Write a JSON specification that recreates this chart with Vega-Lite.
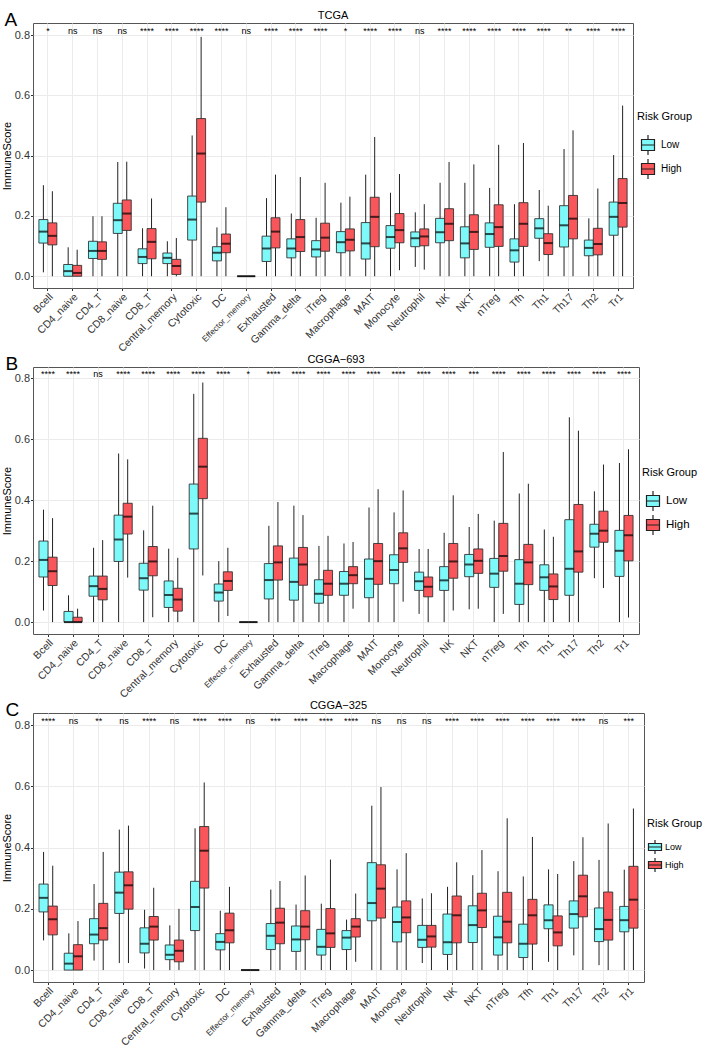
{
  "$schema": "https://vega.github.io/schema/vega-lite/v6.json",
  "padding": {"left": 0, "top": 9, "right": 0, "bottom": 0},
  "config": {
    "font": "Liberation Sans",
    "view": {"stroke": "#555555", "strokeWidth": 1},
    "axis": {"gridColor": "#EBEBEB", "domain": false, "tickColor": "#333333", "tickSize": 2.5, "labelColor": "#333333", "labelFontSize": 11, "titleFontWeight": "normal", "titleFontSize": 11, "titleColor": "#000000"},
    "title": {"fontWeight": "normal", "fontSize": 11, "color": "#000000"},
    "legend": {"titleFontWeight": "normal", "titleFontSize": 11, "titleColor": "#000000", "labelColor": "#000000"}
  },
  "datasets": {
    "box": [
      {"p":"TCGA","c":"Bcell","g":"Low","lo":0.013,"q1":0.11,"md":0.148,"q3":0.188,"hi":0.302},
      {"p":"TCGA","c":"Bcell","g":"High","lo":0,"q1":0.104,"md":0.134,"q3":0.177,"hi":0.282},
      {"p":"TCGA","c":"CD4_naive","g":"Low","lo":0,"q1":0,"md":0.017,"q3":0.039,"hi":0.096},
      {"p":"TCGA","c":"CD4_naive","g":"High","lo":0,"q1":0,"md":0.011,"q3":0.036,"hi":0.088},
      {"p":"TCGA","c":"CD4_T","g":"Low","lo":0,"q1":0.059,"md":0.084,"q3":0.116,"hi":0.199},
      {"p":"TCGA","c":"CD4_T","g":"High","lo":0,"q1":0.056,"md":0.084,"q3":0.114,"hi":0.199},
      {"p":"TCGA","c":"CD8_naive","g":"Low","lo":0,"q1":0.142,"md":0.186,"q3":0.242,"hi":0.379},
      {"p":"TCGA","c":"CD8_naive","g":"High","lo":0,"q1":0.152,"md":0.208,"q3":0.253,"hi":0.38},
      {"p":"TCGA","c":"CD8_T","g":"Low","lo":0,"q1":0.042,"md":0.064,"q3":0.091,"hi":0.159},
      {"p":"TCGA","c":"CD8_T","g":"High","lo":0,"q1":0.058,"md":0.114,"q3":0.158,"hi":0.258},
      {"p":"TCGA","c":"Central_memory","g":"Low","lo":0,"q1":0.042,"md":0.061,"q3":0.077,"hi":0.116},
      {"p":"TCGA","c":"Central_memory","g":"High","lo":0,"q1":0.006,"md":0.034,"q3":0.056,"hi":0.127},
      {"p":"TCGA","c":"Cytotoxic","g":"Low","lo":0,"q1":0.12,"md":0.188,"q3":0.266,"hi":0.467},
      {"p":"TCGA","c":"Cytotoxic","g":"High","lo":0,"q1":0.246,"md":0.407,"q3":0.523,"hi":0.794},
      {"p":"TCGA","c":"DC","g":"Low","lo":0,"q1":0.051,"md":0.078,"q3":0.098,"hi":0.162},
      {"p":"TCGA","c":"DC","g":"High","lo":0,"q1":0.078,"md":0.108,"q3":0.14,"hi":0.229},
      {"p":"TCGA","c":"Effector_memory","g":"Low","lo":0,"q1":0,"md":0,"q3":0,"hi":0},
      {"p":"TCGA","c":"Effector_memory","g":"High","lo":0,"q1":0,"md":0,"q3":0,"hi":0},
      {"p":"TCGA","c":"Exhausted","g":"Low","lo":0,"q1":0.049,"md":0.092,"q3":0.133,"hi":0.259},
      {"p":"TCGA","c":"Exhausted","g":"High","lo":0,"q1":0.094,"md":0.148,"q3":0.194,"hi":0.337},
      {"p":"TCGA","c":"Gamma_delta","g":"Low","lo":0,"q1":0.061,"md":0.092,"q3":0.124,"hi":0.208},
      {"p":"TCGA","c":"Gamma_delta","g":"High","lo":0,"q1":0.082,"md":0.13,"q3":0.188,"hi":0.329},
      {"p":"TCGA","c":"iTreg","g":"Low","lo":0,"q1":0.064,"md":0.089,"q3":0.118,"hi":0.194},
      {"p":"TCGA","c":"iTreg","g":"High","lo":0,"q1":0.083,"md":0.128,"q3":0.176,"hi":0.31},
      {"p":"TCGA","c":"Macrophage","g":"Low","lo":0,"q1":0.078,"md":0.113,"q3":0.148,"hi":0.244},
      {"p":"TCGA","c":"Macrophage","g":"High","lo":0,"q1":0.084,"md":0.121,"q3":0.157,"hi":0.264},
      {"p":"TCGA","c":"MAIT","g":"Low","lo":0,"q1":0.057,"md":0.109,"q3":0.178,"hi":0.337},
      {"p":"TCGA","c":"MAIT","g":"High","lo":0,"q1":0.098,"md":0.197,"q3":0.262,"hi":0.462},
      {"p":"TCGA","c":"Monocyte","g":"Low","lo":0,"q1":0.093,"md":0.13,"q3":0.168,"hi":0.277},
      {"p":"TCGA","c":"Monocyte","g":"High","lo":0.02,"q1":0.111,"md":0.153,"q3":0.208,"hi":0.339},
      {"p":"TCGA","c":"Neutrophil","g":"Low","lo":0.031,"q1":0.098,"md":0.126,"q3":0.147,"hi":0.212},
      {"p":"TCGA","c":"Neutrophil","g":"High","lo":0.022,"q1":0.101,"md":0.132,"q3":0.157,"hi":0.239},
      {"p":"TCGA","c":"NK","g":"Low","lo":0,"q1":0.111,"md":0.146,"q3":0.192,"hi":0.31},
      {"p":"TCGA","c":"NK","g":"High","lo":0,"q1":0.118,"md":0.174,"q3":0.224,"hi":0.379},
      {"p":"TCGA","c":"NKT","g":"Low","lo":0,"q1":0.061,"md":0.109,"q3":0.164,"hi":0.31},
      {"p":"TCGA","c":"NKT","g":"High","lo":0,"q1":0.089,"md":0.147,"q3":0.204,"hi":0.371},
      {"p":"TCGA","c":"nTreg","g":"Low","lo":0,"q1":0.096,"md":0.14,"q3":0.177,"hi":0.293},
      {"p":"TCGA","c":"nTreg","g":"High","lo":0,"q1":0.099,"md":0.163,"q3":0.237,"hi":0.436},
      {"p":"TCGA","c":"Tfh","g":"Low","lo":0,"q1":0.047,"md":0.086,"q3":0.124,"hi":0.239},
      {"p":"TCGA","c":"Tfh","g":"High","lo":0,"q1":0.099,"md":0.174,"q3":0.244,"hi":0.442},
      {"p":"TCGA","c":"Th1","g":"Low","lo":0.05,"q1":0.126,"md":0.159,"q3":0.191,"hi":0.286},
      {"p":"TCGA","c":"Th1","g":"High","lo":0,"q1":0.072,"md":0.11,"q3":0.141,"hi":0.234},
      {"p":"TCGA","c":"Th17","g":"Low","lo":0,"q1":0.097,"md":0.169,"q3":0.234,"hi":0.422},
      {"p":"TCGA","c":"Th17","g":"High","lo":0,"q1":0.124,"md":0.191,"q3":0.268,"hi":0.484},
      {"p":"TCGA","c":"Th2","g":"Low","lo":0,"q1":0.068,"md":0.094,"q3":0.12,"hi":0.192},
      {"p":"TCGA","c":"Th2","g":"High","lo":0,"q1":0.071,"md":0.107,"q3":0.159,"hi":0.291},
      {"p":"TCGA","c":"Tr1","g":"Low","lo":0,"q1":0.136,"md":0.197,"q3":0.246,"hi":0.402},
      {"p":"TCGA","c":"Tr1","g":"High","lo":0,"q1":0.163,"md":0.243,"q3":0.324,"hi":0.566},

      {"p":"CGGA-693","c":"Bcell","g":"Low","lo":0.038,"q1":0.148,"md":0.204,"q3":0.266,"hi":0.369},
      {"p":"CGGA-693","c":"Bcell","g":"High","lo":0,"q1":0.12,"md":0.167,"q3":0.213,"hi":0.341},
      {"p":"CGGA-693","c":"CD4_naive","g":"Low","lo":0,"q1":0,"md":0,"q3":0.035,"hi":0.088},
      {"p":"CGGA-693","c":"CD4_naive","g":"High","lo":0,"q1":0,"md":0,"q3":0.016,"hi":0.044},
      {"p":"CGGA-693","c":"CD4_T","g":"Low","lo":0,"q1":0.085,"md":0.118,"q3":0.151,"hi":0.244},
      {"p":"CGGA-693","c":"CD4_T","g":"High","lo":0,"q1":0.073,"md":0.109,"q3":0.151,"hi":0.269},
      {"p":"CGGA-693","c":"CD8_naive","g":"Low","lo":0,"q1":0.199,"md":0.271,"q3":0.351,"hi":0.553},
      {"p":"CGGA-693","c":"CD8_naive","g":"High","lo":0.146,"q1":0.289,"md":0.346,"q3":0.39,"hi":0.534},
      {"p":"CGGA-693","c":"CD8_T","g":"Low","lo":0,"q1":0.105,"md":0.144,"q3":0.193,"hi":0.301},
      {"p":"CGGA-693","c":"CD8_T","g":"High","lo":0.016,"q1":0.152,"md":0.199,"q3":0.248,"hi":0.382},
      {"p":"CGGA-693","c":"Central_memory","g":"Low","lo":0,"q1":0.048,"md":0.089,"q3":0.135,"hi":0.241},
      {"p":"CGGA-693","c":"Central_memory","g":"High","lo":0,"q1":0.036,"md":0.074,"q3":0.111,"hi":0.211},
      {"p":"CGGA-693","c":"Cytotoxic","g":"Low","lo":0,"q1":0.24,"md":0.356,"q3":0.453,"hi":0.749},
      {"p":"CGGA-693","c":"Cytotoxic","g":"High","lo":0.153,"q1":0.405,"md":0.51,"q3":0.603,"hi":0.786},
      {"p":"CGGA-693","c":"DC","g":"Low","lo":0,"q1":0.069,"md":0.097,"q3":0.125,"hi":0.2},
      {"p":"CGGA-693","c":"DC","g":"High","lo":0.02,"q1":0.104,"md":0.135,"q3":0.165,"hi":0.244},
      {"p":"CGGA-693","c":"Effector_memory","g":"Low","lo":0,"q1":0,"md":0,"q3":0,"hi":0},
      {"p":"CGGA-693","c":"Effector_memory","g":"High","lo":0,"q1":0,"md":0,"q3":0,"hi":0},
      {"p":"CGGA-693","c":"Exhausted","g":"Low","lo":0,"q1":0.076,"md":0.138,"q3":0.192,"hi":0.316},
      {"p":"CGGA-693","c":"Exhausted","g":"High","lo":0,"q1":0.138,"md":0.196,"q3":0.25,"hi":0.394},
      {"p":"CGGA-693","c":"Gamma_delta","g":"Low","lo":0,"q1":0.072,"md":0.132,"q3":0.21,"hi":0.382},
      {"p":"CGGA-693","c":"Gamma_delta","g":"High","lo":0,"q1":0.121,"md":0.189,"q3":0.245,"hi":0.351},
      {"p":"CGGA-693","c":"iTreg","g":"Low","lo":0,"q1":0.062,"md":0.093,"q3":0.139,"hi":0.25},
      {"p":"CGGA-693","c":"iTreg","g":"High","lo":0,"q1":0.088,"md":0.126,"q3":0.17,"hi":0.283},
      {"p":"CGGA-693","c":"Macrophage","g":"Low","lo":0,"q1":0.088,"md":0.126,"q3":0.166,"hi":0.258},
      {"p":"CGGA-693","c":"Macrophage","g":"High","lo":0.044,"q1":0.126,"md":0.154,"q3":0.182,"hi":0.263},
      {"p":"CGGA-693","c":"MAIT","g":"Low","lo":0,"q1":0.08,"md":0.142,"q3":0.207,"hi":0.376},
      {"p":"CGGA-693","c":"MAIT","g":"High","lo":0,"q1":0.124,"md":0.2,"q3":0.258,"hi":0.436},
      {"p":"CGGA-693","c":"Monocyte","g":"Low","lo":0,"q1":0.126,"md":0.171,"q3":0.221,"hi":0.36},
      {"p":"CGGA-693","c":"Monocyte","g":"High","lo":0.067,"q1":0.196,"md":0.242,"q3":0.293,"hi":0.432},
      {"p":"CGGA-693","c":"Neutrophil","g":"Low","lo":0.027,"q1":0.104,"md":0.134,"q3":0.164,"hi":0.24},
      {"p":"CGGA-693","c":"Neutrophil","g":"High","lo":0,"q1":0.083,"md":0.116,"q3":0.148,"hi":0.24},
      {"p":"CGGA-693","c":"NK","g":"Low","lo":0,"q1":0.104,"md":0.137,"q3":0.182,"hi":0.293},
      {"p":"CGGA-693","c":"NK","g":"High","lo":0.038,"q1":0.144,"md":0.199,"q3":0.258,"hi":0.416},
      {"p":"CGGA-693","c":"NKT","g":"Low","lo":0.042,"q1":0.149,"md":0.189,"q3":0.222,"hi":0.312},
      {"p":"CGGA-693","c":"NKT","g":"High","lo":0.044,"q1":0.16,"md":0.201,"q3":0.24,"hi":0.355},
      {"p":"CGGA-693","c":"nTreg","g":"Low","lo":0,"q1":0.114,"md":0.159,"q3":0.209,"hi":0.333},
      {"p":"CGGA-693","c":"nTreg","g":"High","lo":0.027,"q1":0.167,"md":0.217,"q3":0.324,"hi":0.558},
      {"p":"CGGA-693","c":"Tfh","g":"Low","lo":0,"q1":0.058,"md":0.126,"q3":0.205,"hi":0.422},
      {"p":"CGGA-693","c":"Tfh","g":"High","lo":0,"q1":0.123,"md":0.196,"q3":0.255,"hi":0.454},
      {"p":"CGGA-693","c":"Th1","g":"Low","lo":0,"q1":0.104,"md":0.147,"q3":0.188,"hi":0.304},
      {"p":"CGGA-693","c":"Th1","g":"High","lo":0,"q1":0.074,"md":0.117,"q3":0.158,"hi":0.28},
      {"p":"CGGA-693","c":"Th17","g":"Low","lo":0,"q1":0.088,"md":0.175,"q3":0.336,"hi":0.672},
      {"p":"CGGA-693","c":"Th17","g":"High","lo":0,"q1":0.164,"md":0.232,"q3":0.386,"hi":0.628},
      {"p":"CGGA-693","c":"Th2","g":"Low","lo":0.144,"q1":0.246,"md":0.29,"q3":0.321,"hi":0.429},
      {"p":"CGGA-693","c":"Th2","g":"High","lo":0.112,"q1":0.262,"md":0.3,"q3":0.364,"hi":0.517},
      {"p":"CGGA-693","c":"Tr1","g":"Low","lo":0,"q1":0.15,"md":0.234,"q3":0.301,"hi":0.522},
      {"p":"CGGA-693","c":"Tr1","g":"High","lo":0.015,"q1":0.201,"md":0.285,"q3":0.35,"hi":0.567},

      {"p":"CGGA-325","c":"Bcell","g":"Low","lo":0.097,"q1":0.19,"md":0.236,"q3":0.281,"hi":0.386},
      {"p":"CGGA-325","c":"Bcell","g":"High","lo":0,"q1":0.115,"md":0.166,"q3":0.209,"hi":0.341},
      {"p":"CGGA-325","c":"CD4_naive","g":"Low","lo":0,"q1":0,"md":0.021,"q3":0.055,"hi":0.12},
      {"p":"CGGA-325","c":"CD4_naive","g":"High","lo":0,"q1":0,"md":0.045,"q3":0.083,"hi":0.16},
      {"p":"CGGA-325","c":"CD4_T","g":"Low","lo":0.031,"q1":0.086,"md":0.116,"q3":0.168,"hi":0.281},
      {"p":"CGGA-325","c":"CD4_T","g":"High","lo":0,"q1":0.098,"md":0.137,"q3":0.218,"hi":0.386},
      {"p":"CGGA-325","c":"CD8_naive","g":"Low","lo":0.023,"q1":0.185,"md":0.253,"q3":0.32,"hi":0.459},
      {"p":"CGGA-325","c":"CD8_naive","g":"High","lo":0.023,"q1":0.199,"md":0.277,"q3":0.321,"hi":0.472},
      {"p":"CGGA-325","c":"CD8_T","g":"Low","lo":0.005,"q1":0.056,"md":0.086,"q3":0.138,"hi":0.197},
      {"p":"CGGA-325","c":"CD8_T","g":"High","lo":0,"q1":0.098,"md":0.142,"q3":0.175,"hi":0.269},
      {"p":"CGGA-325","c":"Central_memory","g":"Low","lo":0,"q1":0.034,"md":0.05,"q3":0.082,"hi":0.146},
      {"p":"CGGA-325","c":"Central_memory","g":"High","lo":0,"q1":0.027,"md":0.063,"q3":0.098,"hi":0.2},
      {"p":"CGGA-325","c":"Cytotoxic","g":"Low","lo":0,"q1":0.129,"md":0.206,"q3":0.29,"hi":0.463},
      {"p":"CGGA-325","c":"Cytotoxic","g":"High","lo":0,"q1":0.268,"md":0.39,"q3":0.469,"hi":0.613},
      {"p":"CGGA-325","c":"DC","g":"Low","lo":0,"q1":0.066,"md":0.092,"q3":0.119,"hi":0.194},
      {"p":"CGGA-325","c":"DC","g":"High","lo":0,"q1":0.089,"md":0.13,"q3":0.186,"hi":0.272},
      {"p":"CGGA-325","c":"Effector_memory","g":"Low","lo":0,"q1":0,"md":0,"q3":0,"hi":0},
      {"p":"CGGA-325","c":"Effector_memory","g":"High","lo":0,"q1":0,"md":0,"q3":0,"hi":0},
      {"p":"CGGA-325","c":"Exhausted","g":"Low","lo":0,"q1":0.067,"md":0.112,"q3":0.152,"hi":0.263},
      {"p":"CGGA-325","c":"Exhausted","g":"High","lo":0,"q1":0.086,"md":0.155,"q3":0.202,"hi":0.291},
      {"p":"CGGA-325","c":"Gamma_delta","g":"Low","lo":0,"q1":0.061,"md":0.1,"q3":0.144,"hi":0.214},
      {"p":"CGGA-325","c":"Gamma_delta","g":"High","lo":0,"q1":0.099,"md":0.142,"q3":0.194,"hi":0.309},
      {"p":"CGGA-325","c":"iTreg","g":"Low","lo":0,"q1":0.049,"md":0.076,"q3":0.133,"hi":0.217},
      {"p":"CGGA-325","c":"iTreg","g":"High","lo":0,"q1":0.074,"md":0.12,"q3":0.201,"hi":0.361},
      {"p":"CGGA-325","c":"Macrophage","g":"Low","lo":0,"q1":0.067,"md":0.106,"q3":0.129,"hi":0.165},
      {"p":"CGGA-325","c":"Macrophage","g":"High","lo":0.027,"q1":0.108,"md":0.142,"q3":0.168,"hi":0.25},
      {"p":"CGGA-325","c":"MAIT","g":"Low","lo":0,"q1":0.161,"md":0.219,"q3":0.351,"hi":0.537},
      {"p":"CGGA-325","c":"MAIT","g":"High","lo":0,"q1":0.17,"md":0.266,"q3":0.344,"hi":0.598},
      {"p":"CGGA-325","c":"Monocyte","g":"Low","lo":0,"q1":0.092,"md":0.157,"q3":0.206,"hi":0.329},
      {"p":"CGGA-325","c":"Monocyte","g":"High","lo":0,"q1":0.122,"md":0.172,"q3":0.226,"hi":0.382},
      {"p":"CGGA-325","c":"Neutrophil","g":"Low","lo":0.023,"q1":0.074,"md":0.099,"q3":0.146,"hi":0.234},
      {"p":"CGGA-325","c":"Neutrophil","g":"High","lo":0,"q1":0.075,"md":0.11,"q3":0.146,"hi":0.251},
      {"p":"CGGA-325","c":"NK","g":"Low","lo":0,"q1":0.051,"md":0.091,"q3":0.183,"hi":0.272},
      {"p":"CGGA-325","c":"NK","g":"High","lo":0,"q1":0.089,"md":0.179,"q3":0.242,"hi":0.352},
      {"p":"CGGA-325","c":"NKT","g":"Low","lo":0,"q1":0.09,"md":0.147,"q3":0.21,"hi":0.31},
      {"p":"CGGA-325","c":"NKT","g":"High","lo":0,"q1":0.139,"md":0.195,"q3":0.251,"hi":0.392},
      {"p":"CGGA-325","c":"nTreg","g":"Low","lo":0,"q1":0.049,"md":0.107,"q3":0.176,"hi":0.323},
      {"p":"CGGA-325","c":"nTreg","g":"High","lo":0,"q1":0.089,"md":0.158,"q3":0.254,"hi":0.496},
      {"p":"CGGA-325","c":"Tfh","g":"Low","lo":0,"q1":0.041,"md":0.086,"q3":0.15,"hi":0.306},
      {"p":"CGGA-325","c":"Tfh","g":"High","lo":0,"q1":0.085,"md":0.179,"q3":0.231,"hi":0.435},
      {"p":"CGGA-325","c":"Th1","g":"Low","lo":0.027,"q1":0.135,"md":0.163,"q3":0.213,"hi":0.329},
      {"p":"CGGA-325","c":"Th1","g":"High","lo":0,"q1":0.079,"md":0.123,"q3":0.177,"hi":0.314},
      {"p":"CGGA-325","c":"Th17","g":"Low","lo":0.048,"q1":0.137,"md":0.183,"q3":0.226,"hi":0.356},
      {"p":"CGGA-325","c":"Th17","g":"High","lo":0,"q1":0.174,"md":0.241,"q3":0.31,"hi":0.434},
      {"p":"CGGA-325","c":"Th2","g":"Low","lo":0.016,"q1":0.093,"md":0.134,"q3":0.203,"hi":0.36},
      {"p":"CGGA-325","c":"Th2","g":"High","lo":0,"q1":0.098,"md":0.164,"q3":0.255,"hi":0.479},
      {"p":"CGGA-325","c":"Tr1","g":"Low","lo":0,"q1":0.125,"md":0.163,"q3":0.208,"hi":0.328},
      {"p":"CGGA-325","c":"Tr1","g":"High","lo":0,"q1":0.137,"md":0.23,"q3":0.339,"hi":0.528}
    ],
    "sig": [
      {"p":"TCGA","c":"Bcell","s":"*"},{"p":"TCGA","c":"CD4_naive","s":"ns"},{"p":"TCGA","c":"CD4_T","s":"ns"},{"p":"TCGA","c":"CD8_naive","s":"ns"},{"p":"TCGA","c":"CD8_T","s":"****"},{"p":"TCGA","c":"Central_memory","s":"****"},{"p":"TCGA","c":"Cytotoxic","s":"****"},{"p":"TCGA","c":"DC","s":"****"},{"p":"TCGA","c":"Effector_memory","s":"ns"},{"p":"TCGA","c":"Exhausted","s":"****"},{"p":"TCGA","c":"Gamma_delta","s":"****"},{"p":"TCGA","c":"iTreg","s":"****"},{"p":"TCGA","c":"Macrophage","s":"*"},{"p":"TCGA","c":"MAIT","s":"****"},{"p":"TCGA","c":"Monocyte","s":"****"},{"p":"TCGA","c":"Neutrophil","s":"ns"},{"p":"TCGA","c":"NK","s":"****"},{"p":"TCGA","c":"NKT","s":"****"},{"p":"TCGA","c":"nTreg","s":"****"},{"p":"TCGA","c":"Tfh","s":"****"},{"p":"TCGA","c":"Th1","s":"****"},{"p":"TCGA","c":"Th17","s":"**"},{"p":"TCGA","c":"Th2","s":"****"},{"p":"TCGA","c":"Tr1","s":"****"},
      {"p":"CGGA-693","c":"Bcell","s":"****"},{"p":"CGGA-693","c":"CD4_naive","s":"****"},{"p":"CGGA-693","c":"CD4_T","s":"ns"},{"p":"CGGA-693","c":"CD8_naive","s":"****"},{"p":"CGGA-693","c":"CD8_T","s":"****"},{"p":"CGGA-693","c":"Central_memory","s":"****"},{"p":"CGGA-693","c":"Cytotoxic","s":"****"},{"p":"CGGA-693","c":"DC","s":"****"},{"p":"CGGA-693","c":"Effector_memory","s":"*"},{"p":"CGGA-693","c":"Exhausted","s":"****"},{"p":"CGGA-693","c":"Gamma_delta","s":"****"},{"p":"CGGA-693","c":"iTreg","s":"****"},{"p":"CGGA-693","c":"Macrophage","s":"****"},{"p":"CGGA-693","c":"MAIT","s":"****"},{"p":"CGGA-693","c":"Monocyte","s":"****"},{"p":"CGGA-693","c":"Neutrophil","s":"****"},{"p":"CGGA-693","c":"NK","s":"****"},{"p":"CGGA-693","c":"NKT","s":"***"},{"p":"CGGA-693","c":"nTreg","s":"****"},{"p":"CGGA-693","c":"Tfh","s":"****"},{"p":"CGGA-693","c":"Th1","s":"****"},{"p":"CGGA-693","c":"Th17","s":"****"},{"p":"CGGA-693","c":"Th2","s":"****"},{"p":"CGGA-693","c":"Tr1","s":"****"},
      {"p":"CGGA-325","c":"Bcell","s":"****"},{"p":"CGGA-325","c":"CD4_naive","s":"ns"},{"p":"CGGA-325","c":"CD4_T","s":"**"},{"p":"CGGA-325","c":"CD8_naive","s":"ns"},{"p":"CGGA-325","c":"CD8_T","s":"****"},{"p":"CGGA-325","c":"Central_memory","s":"ns"},{"p":"CGGA-325","c":"Cytotoxic","s":"****"},{"p":"CGGA-325","c":"DC","s":"****"},{"p":"CGGA-325","c":"Effector_memory","s":"ns"},{"p":"CGGA-325","c":"Exhausted","s":"***"},{"p":"CGGA-325","c":"Gamma_delta","s":"****"},{"p":"CGGA-325","c":"iTreg","s":"****"},{"p":"CGGA-325","c":"Macrophage","s":"****"},{"p":"CGGA-325","c":"MAIT","s":"ns"},{"p":"CGGA-325","c":"Monocyte","s":"ns"},{"p":"CGGA-325","c":"Neutrophil","s":"ns"},{"p":"CGGA-325","c":"NK","s":"****"},{"p":"CGGA-325","c":"NKT","s":"****"},{"p":"CGGA-325","c":"nTreg","s":"****"},{"p":"CGGA-325","c":"Tfh","s":"****"},{"p":"CGGA-325","c":"Th1","s":"****"},{"p":"CGGA-325","c":"Th17","s":"****"},{"p":"CGGA-325","c":"Th2","s":"ns"},{"p":"CGGA-325","c":"Tr1","s":"***"}
    ]
  },
  "vconcat": [
    {
      "width": 600, "height": 265,
      "title": {"text": "TCGA", "offset": -11},
      "layer": [
        {"data": {"name": "box"}, "transform": [{"filter": "datum.p === 'TCGA'"}],
         "mark": {"type": "rule", "color": "#222222", "strokeWidth": 1},
         "encoding": {
           "x": {"field": "c", "type": "nominal", "scale": {"domain": ["Bcell","CD4_naive","CD4_T","CD8_naive","CD8_T","Central_memory","Cytotoxic","DC","Effector_memory","Exhausted","Gamma_delta","iTreg","Macrophage","MAIT","Monocyte","Neutrophil","NK","NKT","nTreg","Tfh","Th1","Th17","Th2","Tr1"], "paddingInner": 0, "paddingOuter": 0.1},
                 "axis": {"orient": "bottom", "title": null, "labelAngle": -45, "labelAlign": "right", "labelBaseline": "top", "bandPosition": 0.5, "grid": true, "labelPadding": 1, "labelFontSize": {"condition": {"test": "datum.value === 'Effector_memory'", "value": 8.5}, "value": 10.5}}},
           "xOffset": {"field": "g", "type": "nominal", "scale": {"domain": ["Low","High"], "paddingOuter": 0.38, "paddingInner": 0}},
           "y": {"field": "lo", "type": "quantitative", "title": "ImmuneScore", "scale": {"domain": [-0.039, 0.84], "nice": false, "zero": false},
                 "axis": {"title": "ImmuneScore", "titlePadding": 2, "values": [0,0.1,0.2,0.3,0.4,0.5,0.6,0.7,0.8], "labelFontSize": 11, "labelPadding": 1, "labelExpr": "round(datum.value*10)%2===0 ? format(datum.value,'.1f') : ''", "tickOpacity": {"condition": {"test": "round(datum.value*10)%2!==0", "value": 0}, "value": 1}, "gridWidth": {"condition": {"test": "round(datum.value*10)%2!==0", "value": 0.6}, "value": 1.1}}},
           "y2": {"field": "hi"}
         }},
        {"data": {"name": "box"}, "transform": [{"filter": "datum.p === 'TCGA'"}],
         "mark": {"type": "bar", "stroke": "#333333", "strokeWidth": 0.9},
         "encoding": {
           "x": {"field": "c", "type": "nominal", "axis": null},
           "xOffset": {"field": "g", "type": "nominal"},
           "y": {"field": "q1", "type": "quantitative", "title": "ImmuneScore"},
           "y2": {"field": "q3"},
           "fill": {"field": "g", "type": "nominal", "scale": {"domain": ["Low","High"], "range": ["#7DF9F9","#F8565A"]},
                    "legend": {"title": "Risk Group", "orient": "none", "legendX": 604, "legendY": 88, "labelFontSize": 10, "symbolType": "M-0.65,-0.55H0.65V0.55H-0.65Z M0,-0.55V-1 M0,0.55V1 M-0.65,0H0.65", "symbolSize": 400, "symbolStrokeColor": "#222222", "symbolStrokeWidth": 1.2, "titlePadding": 12, "rowPadding": -6, "labelOffset": 2}}
         }},
        {"data": {"name": "box"}, "transform": [{"filter": "datum.p === 'TCGA'"}],
         "mark": {"type": "tick", "color": "#000000", "thickness": 2, "size": 9},
         "encoding": {
           "x": {"field": "c", "type": "nominal", "axis": null},
           "xOffset": {"field": "g", "type": "nominal"},
           "y": {"field": "md", "type": "quantitative", "title": "ImmuneScore"}
         }},
        {"data": {"name": "sig"}, "transform": [{"filter": "datum.p === 'TCGA'"}],
         "mark": {"type": "text", "fontSize": 9, "baseline": "alphabetic", "color": "#000000"},
         "encoding": {
           "x": {"field": "c", "type": "nominal", "axis": {"orient": "top", "title": "A", "labels": false, "ticks": false, "domain": false, "grid": false, "titleFontSize": 19, "titleAnchor": "start", "titleAlign": "left", "titleX": -29, "titleY": 2, "titleBaseline": "alphabetic"}},
           "y": {"datum": 0.805, "type": "quantitative", "title": "ImmuneScore"},
           "text": {"field": "s"}
         }}
      ],
      "resolve": {"axis": {"x": "independent"}}
    },
    {
      "width": 606, "height": 267,
      "title": {"text": "CGGA\u2212693", "offset": -11},
      "layer": [
        {"data": {"name": "box"}, "transform": [{"filter": "datum.p === 'CGGA-693'"}],
         "mark": {"type": "rule", "color": "#222222", "strokeWidth": 1},
         "encoding": {
           "x": {"field": "c", "type": "nominal", "scale": {"domain": ["Bcell","CD4_naive","CD4_T","CD8_naive","CD8_T","Central_memory","Cytotoxic","DC","Effector_memory","Exhausted","Gamma_delta","iTreg","Macrophage","MAIT","Monocyte","Neutrophil","NK","NKT","nTreg","Tfh","Th1","Th17","Th2","Tr1"], "paddingInner": 0, "paddingOuter": 0.1},
                 "axis": {"orient": "bottom", "title": null, "labelAngle": -45, "labelAlign": "right", "labelBaseline": "top", "bandPosition": 0.5, "grid": true, "labelPadding": 1, "labelFontSize": {"condition": {"test": "datum.value === 'Effector_memory'", "value": 8.5}, "value": 10.5}}},
           "xOffset": {"field": "g", "type": "nominal", "scale": {"domain": ["Low","High"], "paddingOuter": 0.38, "paddingInner": 0}},
           "y": {"field": "lo", "type": "quantitative", "title": "ImmuneScore", "scale": {"domain": [-0.039, 0.837], "nice": false, "zero": false},
                 "axis": {"title": "ImmuneScore", "titlePadding": 2, "values": [0,0.1,0.2,0.3,0.4,0.5,0.6,0.7,0.8], "labelFontSize": 11, "labelPadding": 1, "labelExpr": "round(datum.value*10)%2===0 ? format(datum.value,'.1f') : ''", "tickOpacity": {"condition": {"test": "round(datum.value*10)%2!==0", "value": 0}, "value": 1}, "gridWidth": {"condition": {"test": "round(datum.value*10)%2!==0", "value": 0.6}, "value": 1.1}}},
           "y2": {"field": "hi"}
         }},
        {"data": {"name": "box"}, "transform": [{"filter": "datum.p === 'CGGA-693'"}],
         "mark": {"type": "bar", "stroke": "#333333", "strokeWidth": 0.9},
         "encoding": {
           "x": {"field": "c", "type": "nominal", "axis": null},
           "xOffset": {"field": "g", "type": "nominal"},
           "y": {"field": "q1", "type": "quantitative", "title": "ImmuneScore"},
           "y2": {"field": "q3"},
           "fill": {"field": "g", "type": "nominal", "scale": {"domain": ["Low","High"], "range": ["#7DF9F9","#F8565A"]},
                    "legend": {"title": "Risk Group", "orient": "none", "legendX": 609, "legendY": 100, "labelFontSize": 11.5, "symbolType": "M-0.65,-0.55H0.65V0.55H-0.65Z M0,-0.55V-1 M0,0.55V1 M-0.65,0H0.65", "symbolSize": 400, "symbolStrokeColor": "#222222", "symbolStrokeWidth": 1.2, "titlePadding": 12, "rowPadding": -5, "labelOffset": 2}}
         }},
        {"data": {"name": "box"}, "transform": [{"filter": "datum.p === 'CGGA-693'"}],
         "mark": {"type": "tick", "color": "#000000", "thickness": 2, "size": 9},
         "encoding": {
           "x": {"field": "c", "type": "nominal", "axis": null},
           "xOffset": {"field": "g", "type": "nominal"},
           "y": {"field": "md", "type": "quantitative", "title": "ImmuneScore"}
         }},
        {"data": {"name": "sig"}, "transform": [{"filter": "datum.p === 'CGGA-693'"}],
         "mark": {"type": "text", "fontSize": 9, "baseline": "alphabetic", "color": "#000000"},
         "encoding": {
           "x": {"field": "c", "type": "nominal", "axis": {"orient": "top", "title": "B", "labels": false, "ticks": false, "domain": false, "grid": false, "titleFontSize": 19, "titleAnchor": "start", "titleAlign": "left", "titleX": -28, "titleY": 2, "titleBaseline": "alphabetic"}},
           "y": {"datum": 0.805, "type": "quantitative", "title": "ImmuneScore"},
           "text": {"field": "s"}
         }}
      ],
      "resolve": {"axis": {"x": "independent"}}
    },
    {
      "width": 611, "height": 269,
      "title": {"text": "CGGA\u2212325", "offset": -11},
      "layer": [
        {"data": {"name": "box"}, "transform": [{"filter": "datum.p === 'CGGA-325'"}],
         "mark": {"type": "rule", "color": "#222222", "strokeWidth": 1},
         "encoding": {
           "x": {"field": "c", "type": "nominal", "scale": {"domain": ["Bcell","CD4_naive","CD4_T","CD8_naive","CD8_T","Central_memory","Cytotoxic","DC","Effector_memory","Exhausted","Gamma_delta","iTreg","Macrophage","MAIT","Monocyte","Neutrophil","NK","NKT","nTreg","Tfh","Th1","Th17","Th2","Tr1"], "paddingInner": 0, "paddingOuter": 0.1},
                 "axis": {"orient": "bottom", "title": null, "labelAngle": -45, "labelAlign": "right", "labelBaseline": "top", "bandPosition": 0.5, "grid": true, "labelPadding": 1, "labelFontSize": {"condition": {"test": "datum.value === 'Effector_memory'", "value": 8.5}, "value": 10.5}}},
           "xOffset": {"field": "g", "type": "nominal", "scale": {"domain": ["Low","High"], "paddingOuter": 0.38, "paddingInner": 0}},
           "y": {"field": "lo", "type": "quantitative", "title": "ImmuneScore", "scale": {"domain": [-0.039, 0.84], "nice": false, "zero": false},
                 "axis": {"title": "ImmuneScore", "titlePadding": 2, "values": [0,0.1,0.2,0.3,0.4,0.5,0.6,0.7,0.8], "labelFontSize": 11, "labelPadding": 1, "labelExpr": "round(datum.value*10)%2===0 ? format(datum.value,'.1f') : ''", "tickOpacity": {"condition": {"test": "round(datum.value*10)%2!==0", "value": 0}, "value": 1}, "gridWidth": {"condition": {"test": "round(datum.value*10)%2!==0", "value": 0.6}, "value": 1.1}}},
           "y2": {"field": "hi"}
         }},
        {"data": {"name": "box"}, "transform": [{"filter": "datum.p === 'CGGA-325'"}],
         "mark": {"type": "bar", "stroke": "#333333", "strokeWidth": 0.9},
         "encoding": {
           "x": {"field": "c", "type": "nominal", "axis": null},
           "xOffset": {"field": "g", "type": "nominal"},
           "y": {"field": "q1", "type": "quantitative", "title": "ImmuneScore"},
           "y2": {"field": "q3"},
           "fill": {"field": "g", "type": "nominal", "scale": {"domain": ["Low","High"], "range": ["#7DF9F9","#F8565A"]},
                    "legend": {"title": "Risk Group", "orient": "none", "legendX": 614, "legendY": 105, "labelFontSize": 9, "symbolType": "M-0.93,-0.5H0.93V0.5H-0.93Z M0,-0.5V-1 M0,0.5V1 M-0.93,0H0.93", "symbolSize": 196, "symbolStrokeColor": "#222222", "symbolStrokeWidth": 1.2, "titlePadding": 10, "rowPadding": -2, "labelOffset": 2}}
         }},
        {"data": {"name": "box"}, "transform": [{"filter": "datum.p === 'CGGA-325'"}],
         "mark": {"type": "tick", "color": "#000000", "thickness": 2, "size": 9},
         "encoding": {
           "x": {"field": "c", "type": "nominal", "axis": null},
           "xOffset": {"field": "g", "type": "nominal"},
           "y": {"field": "md", "type": "quantitative", "title": "ImmuneScore"}
         }},
        {"data": {"name": "sig"}, "transform": [{"filter": "datum.p === 'CGGA-325'"}],
         "mark": {"type": "text", "fontSize": 9, "baseline": "alphabetic", "color": "#000000"},
         "encoding": {
           "x": {"field": "c", "type": "nominal", "axis": {"orient": "top", "title": "C", "labels": false, "ticks": false, "domain": false, "grid": false, "titleFontSize": 19, "titleAnchor": "start", "titleAlign": "left", "titleX": -28, "titleY": 2, "titleBaseline": "alphabetic"}},
           "y": {"datum": 0.805, "type": "quantitative", "title": "ImmuneScore"},
           "text": {"field": "s"}
         }}
      ],
      "resolve": {"axis": {"x": "independent"}}
    }
  ],
  "spacing": 79,
  "bounds": "flush",
  "resolve": {"scale": {"fill": "independent", "x": "independent", "y": "independent", "xOffset": "independent"}, "legend": {"fill": "independent"}}
}
